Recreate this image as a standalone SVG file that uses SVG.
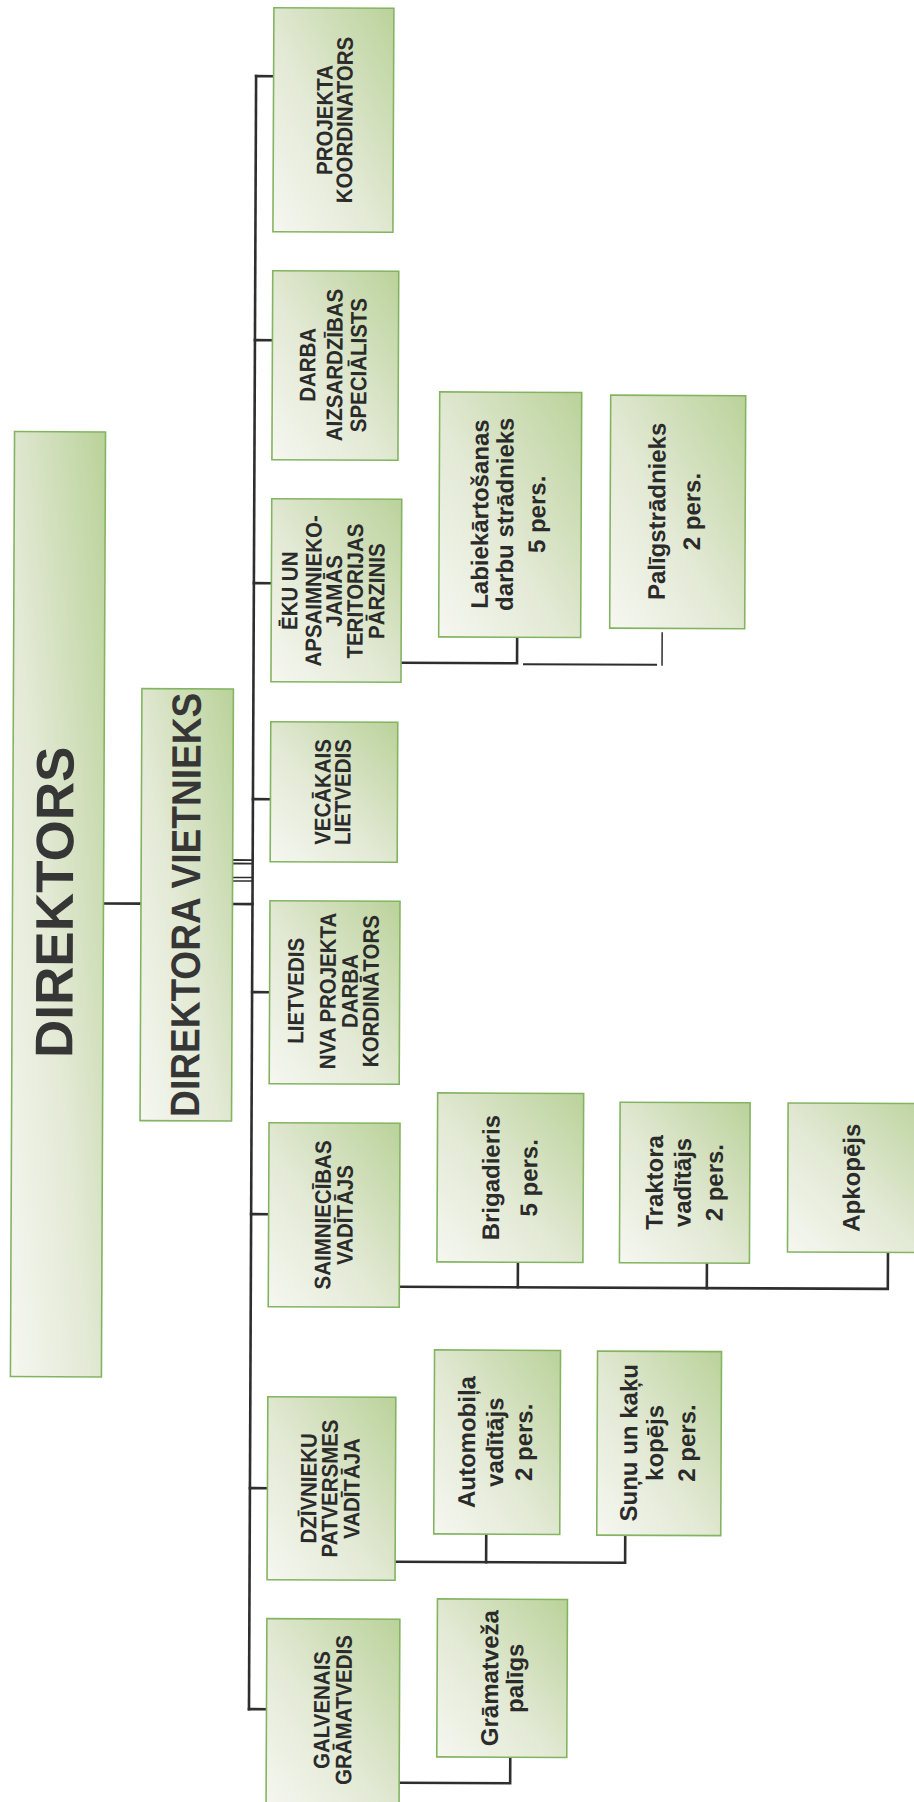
<svg xmlns="http://www.w3.org/2000/svg" width="914" height="1802" viewBox="0 0 914 1802">
<defs>
<linearGradient id="gr" x1="0" y1="1" x2="1" y2="0">
<stop offset="0" stop-color="#f6f7f1"/>
<stop offset="0.45" stop-color="#e2e9d4"/>
<stop offset="1" stop-color="#bad29a"/>
</linearGradient>
<style>
.box{fill:url(#gr);stroke:#84b462;stroke-width:1.6}
.c{fill:none;stroke:#2e2e2e;stroke-width:2.6;stroke-linecap:square}
.t1{font-family:"Liberation Sans",Arial,sans-serif;font-weight:bold;font-size:22.5px;fill:#2b2b2b;text-anchor:middle}
.t2{font-family:"Liberation Sans",Arial,sans-serif;font-weight:bold;font-size:24px;fill:#2b2b2b;text-anchor:middle}
.tb{font-family:"Liberation Sans",Arial,sans-serif;font-weight:bold;fill:#363636;text-anchor:middle}
</style>
</defs>
<rect width="914" height="1802" fill="#ffffff"/>
<g transform="rotate(0.25 457 901)">
<g id="connectors">
<line class="c" x1="252.5" y1="77" x2="252.5" y2="1710"/>
<line class="c" x1="252.5" y1="77" x2="270" y2="77"/>
<line class="c" x1="252.5" y1="341" x2="270" y2="341"/>
<line class="c" x1="252.5" y1="584" x2="270" y2="584"/>
<line class="c" x1="252.5" y1="800" x2="270" y2="800"/>
<line class="c" x1="252.5" y1="993" x2="270" y2="993"/>
<line class="c" x1="252.5" y1="1215" x2="270" y2="1215"/>
<line class="c" x1="252.5" y1="1489" x2="270" y2="1489"/>
<line class="c" x1="252.5" y1="1710" x2="270" y2="1710"/>
<line class="c" x1="103.5" y1="905" x2="141" y2="905"/>
<line class="c" x1="232.5" y1="905" x2="252.5" y2="905"/>
<line class="c" x1="233" y1="861" x2="252.5" y2="861" style="stroke-width:1.8"/>
<line class="c" x1="233" y1="864.5" x2="252.5" y2="864.5" style="stroke-width:1.8"/>
<line class="c" x1="233" y1="878.5" x2="252.5" y2="878.5" style="stroke-width:1.5"/>
<line class="c" x1="233" y1="882" x2="252.5" y2="882" style="stroke-width:1.5"/>
<polyline class="c" points="400,663 516,663 516,637"/>
<line class="c" x1="523" y1="664" x2="655" y2="664" style="stroke-width:2"/>
<line class="c" x1="661" y1="632" x2="661" y2="664" style="stroke-width:1.5"/>
<polyline class="c" points="401,1287 889.5,1287 889.5,1250.5"/>
<line class="c" x1="519.5" y1="1262" x2="519.5" y2="1287"/>
<line class="c" x1="708.5" y1="1262" x2="708.5" y2="1287"/>
<polyline class="c" points="398,1562 628,1562 628,1535"/>
<line class="c" x1="489" y1="1534" x2="489" y2="1562"/>
<polyline class="c" points="403,1783 514,1783 514,1757"/>
</g>
<g id="n-direktors">
<rect class="box" x="12.5" y="433.5" width="91" height="945"/>
<text class="tb" style="font-size:53px" transform="translate(12.5,904) rotate(-90)" x="0" y="60.5">DIREKTORS</text>
</g>
<g id="n-vietnieks">
<rect class="box" x="141" y="690" width="91.5" height="432"/>
<text class="tb" style="font-size:41px" transform="translate(141,906) rotate(-90)" x="0" y="59" textLength="424" lengthAdjust="spacingAndGlyphs">DIREKTORA VIETNIEKS</text>
</g>
<g id="n-projekta">
<rect class="box" x="270" y="8.5" width="120" height="224"/>
<text class="t1" transform="translate(270,120.5) rotate(-90) scale(0.91,1)"><tspan x="0" y="59">PROJEKTA</tspan><tspan x="0" y="79">KOORDINATORS</tspan></text>
</g>
<g id="n-darba">
<rect class="box" x="270" y="271.5" width="126" height="189"/>
<text class="t1" transform="translate(270,365.5) rotate(-90) scale(0.91,1)"><tspan x="0" y="43">DARBA</tspan><tspan x="0" y="70">AIZSARDZĪBAS</tspan><tspan x="0" y="94">SPECIĀLISTS</tspan></text>
</g>
<g id="n-eku">
<rect class="box" x="270" y="499.5" width="130" height="183"/>
<text class="t1" transform="translate(270,591.5) rotate(-90) scale(0.91,1)"><tspan x="0" y="26">ĒKU UN</tspan><tspan x="0" y="50">APSAIMNIEKO-</tspan><tspan x="0" y="70.5">JAMĀS</tspan><tspan x="0" y="91.5">TERITORIJAS</tspan><tspan x="0" y="113">PĀRZINIS</tspan></text>
</g>
<g id="n-vecakais">
<rect class="box" x="270" y="722.5" width="127" height="140"/>
<text class="t1" transform="translate(270,792.5) rotate(-90) scale(0.91,1)"><tspan x="0" y="60">VECĀKAIS</tspan><tspan x="0" y="80">LIETVEDIS</tspan></text>
</g>
<g id="n-lietvedis">
<rect class="box" x="270" y="901.5" width="130" height="183"/>
<text class="t1" transform="translate(270,991.5) rotate(-90) scale(0.91,1)"><tspan x="0" y="34">LIETVEDIS</tspan><tspan x="0" y="66">NVA PROJEKTA</tspan><tspan x="0" y="88">DARBA</tspan><tspan x="0" y="109">KORDINĀTORS</tspan></text>
</g>
<g id="n-saimniecibas">
<rect class="box" x="270" y="1123.5" width="131" height="184"/>
<text class="t1" transform="translate(270,1215.5) rotate(-90) scale(0.91,1)"><tspan x="0" y="62">SAIMNIECĪBAS</tspan><tspan x="0" y="84">VADĪTĀJS</tspan></text>
</g>
<g id="n-dzivnieku">
<rect class="box" x="270" y="1397.5" width="128" height="183"/>
<text class="t1" transform="translate(270,1489) rotate(-90) scale(0.91,1)"><tspan x="0" y="49">DZĪVNIEKU</tspan><tspan x="0" y="70">PATVERSMES</tspan><tspan x="0" y="92">VADĪTĀJA</tspan></text>
</g>
<g id="n-galvenais">
<rect class="box" x="270" y="1619.5" width="133" height="190"/>
<text class="t1" transform="translate(270,1710.5) rotate(-90) scale(0.91,1)"><tspan x="0" y="63">GALVENAIS</tspan><tspan x="0" y="85">GRĀMATVEDIS</tspan></text>
</g>
<g id="n-labiekartosanas">
<rect class="box" x="437.5" y="392" width="142" height="245"/>
<text class="t2" transform="translate(437.5,514) rotate(-90)"><tspan x="0" y="49">Labiekārtošanas</tspan><tspan x="0" y="74">darbu strādnieks</tspan><tspan x="0" y="106">5 pers.</tspan></text>
</g>
<g id="n-paligstradnieks">
<rect class="box" x="608.5" y="394.5" width="135" height="233"/>
<text class="t2" transform="translate(608.5,510.5) rotate(-90)"><tspan x="0" y="55">Palīgstrādnieks</tspan><tspan x="0" y="90">2 pers.</tspan></text>
</g>
<g id="n-brigadieris">
<rect class="box" x="438.5" y="1093" width="146" height="169"/>
<text class="t2" transform="translate(438.5,1177.5) rotate(-90)"><tspan x="0" y="62">Brigadieris</tspan><tspan x="0" y="100">5 pers.</tspan></text>
</g>
<g id="n-traktora">
<rect class="box" x="621" y="1101.5" width="130" height="160.5"/>
<text class="t2" transform="translate(621,1181.5) rotate(-90)"><tspan x="0" y="43">Traktora</tspan><tspan x="0" y="71">vadītājs</tspan><tspan x="0" y="103">2 pers.</tspan></text>
</g>
<g id="n-apkopejs">
<rect class="box" x="789" y="1101.5" width="150" height="149"/>
<text class="t2" transform="translate(789,1176) rotate(-90)"><tspan x="0" y="72">Apkopējs</tspan></text>
</g>
<g id="n-automobila">
<rect class="box" x="436.5" y="1350" width="126" height="184"/>
<text class="t2" transform="translate(436.5,1442) rotate(-90)"><tspan x="0" y="41">Automobiļa</tspan><tspan x="0" y="69">vadītājs</tspan><tspan x="0" y="98">2 pers.</tspan></text>
</g>
<g id="n-sunu">
<rect class="box" x="599.5" y="1350.5" width="124" height="184"/>
<text class="t2" transform="translate(599.5,1442) rotate(-90)"><tspan x="0" y="40">Suņu un kaķu</tspan><tspan x="0" y="66">kopējs</tspan><tspan x="0" y="98">2 pers.</tspan></text>
</g>
<g id="n-gramatveza">
<rect class="box" x="440.5" y="1599" width="130" height="158"/>
<text class="t2" transform="translate(440.5,1678) rotate(-90)"><tspan x="0" y="61">Grāmatveža</tspan><tspan x="0" y="86">palīgs</tspan></text>
</g>
</g>
</svg>
